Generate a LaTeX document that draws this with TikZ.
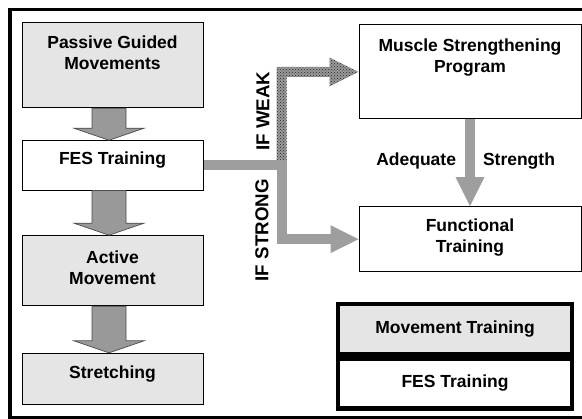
\documentclass[tikz,border=0pt]{standalone}
\usepackage{fontspec}
\setmainfont{Liberation Sans}
\usetikzlibrary{calc,patterns}

\tikzset{
    stage/.style={draw, line width=1pt, fill=black!10, inner sep=0pt},
    plain/.style={draw, line width=1pt, fill=white, inner sep=0pt},
    legbox/.style={draw, line width=4.5pt, inner sep=0pt, minimum width=234pt, minimum height=50pt},
    blockarrow/.style={draw=black!70, line width=0.7pt, fill=black!40},
    flowline/.style={draw=black!38, line width=10pt},
    flowhead/.style={fill=black!38},
    weakfill/.style={preaction={fill=black!40}, pattern=crosshatch dots, pattern color=black!85},
    sidetext/.style={font=\fontsize{18.7}{21}\selectfont\bfseries, inner sep=0pt, rotate=90}
}

\begin{document}
\begin{tikzpicture}[x=1pt, y=-1pt, font=\fontsize{17.5}{20.7}\selectfont\bfseries]
    \useasboundingbox (0,0) rectangle (582,419);

    % Frame
    \draw[line width=3.5pt] (10,9.5) rectangle (600,418);

    % Training stages
    \node[stage] (pgm) at (112.5,65.2) {\parbox[c][85pt][t]{181pt}{\centering\vspace*{13.3pt}Passive Guided\\Movements}};
    \node[plain] (fes) at (112.5,165.4) {\parbox[c][49.3pt][t]{181pt}{\centering\vspace*{11pt}FES Training}};
    \node[stage] (act) at (112.5,270.7) {\parbox[c][70pt][t]{181pt}{\centering\vspace*{15pt}Active\\Movement}};
    \node[stage] (str) at (112.5,378.7) {\parbox[c][50.7pt][t]{181pt}{\centering\vspace*{12.4pt}Stretching}};

    \node[plain] (musc) at (470,72) {\parbox[c][94pt][t]{222pt}{\centering\vspace*{14.3pt}Muscle Strengthening\\Program}};
    \node[plain] (func) at (470,239.2) {\parbox[c][65pt][t]{222pt}{\centering\vspace*{12.6pt}Functional\\Training}};

    % Block arrows
    \draw[blockarrow] ($(pgm.south)+(-20.5,0)$) -- ($(fes.north)+(-20.5,-12)$) -- ($(fes.north)+(-38.5,-12)$) -- ($(fes.north)+(-3.5,0)$) -- ($(fes.north)+(31.5,-12)$) -- ($(fes.north)+(13.5,-12)$) -- ($(pgm.south)+(13.5,0)$) -- cycle;
    \draw[blockarrow] ($(fes.south)+(-20.5,0)$) -- ($(act.north)+(-20.5,-12)$) -- ($(act.north)+(-38.5,-12)$) -- ($(act.north)+(-3.5,0)$) -- ($(act.north)+(31.5,-12)$) -- ($(act.north)+(13.5,-12)$) -- ($(fes.south)+(13.5,0)$) -- cycle;
    \draw[blockarrow] ($(act.south)+(-20.5,0)$) -- ($(str.north)+(-20.5,-12)$) -- ($(str.north)+(-38.5,-12)$) -- ($(str.north)+(-3.5,0)$) -- ($(str.north)+(31.5,-12)$) -- ($(str.north)+(13.5,-12)$) -- ($(act.south)+(13.5,0)$) -- cycle;

    % Branches
    \coordinate (split) at (281.5,165.4);
    \path[weakfill] ($(split)+(-5,-5)$) |- ($(musc.west)+(-29,-5)$) -- ($(musc.west)+(-29,-14.5)$) -- (musc.west) -- ($(musc.west)+(-29,14.5)$) -- ($(musc.west)+(-29,5)$) -| ($(split)+(5,-5)$) -- cycle;
    \draw[flowline] (fes.east) -- (split) |- ($(func.west)+(-28,0)$);
    \fill[flowhead] ($(func.west)+(-28,-14)$) -- (func.west) -- ($(func.west)+(-28,14)$) -- cycle;

    \node[sidetext] (weak) at (263,111.2) {IF WEAK};
    \node[sidetext] (strong) at (262,230.3) {IF STRONG};

    \draw[flowline] (musc.south) -- ($(func.north)+(0,-29)$)
        node[pos=0.72, left=9pt, inner sep=0pt] {Adequate}
        node[pos=0.72, right=8pt, inner sep=0pt] {Strength};
    \fill[flowhead] ($(func.north)+(-14.5,-29)$) -- (func.north) -- ($(func.north)+(14.5,-29)$) -- cycle;

    % Legend
    \node[legbox, fill=black!10] (legmove) at (455,329) {Movement Training};
    \node[legbox, fill=white, anchor=north] (legfes) at (legmove.south) {FES Training};
\end{tikzpicture}
\end{document}
